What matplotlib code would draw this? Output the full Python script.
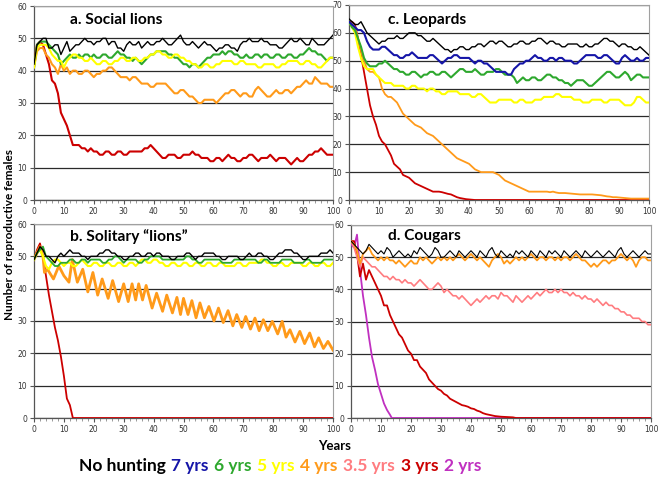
import numpy as np
import matplotlib
matplotlib.use("Agg")
from matplotlib import pyplot as plt
from matplotlib.offsetbox import TextArea, HPacker, AnchoredOffsetbox

###################################################################################################
# DATA (one value per year unless an x list is given)
###################################################################################################
YEARS = list(range(101))

# a. Social lions
a_none = [42, 48, 49, 50, 50, 47, 47, 48, 48, 45, 47, 49, 46, 47, 48, 48, 49, 50, 49, 49,
          48, 49, 49, 50, 50, 48, 49, 49, 47, 47, 46, 48, 49, 48, 48, 49, 47, 48, 49, 48,
          48, 49, 49, 50, 49, 48, 48, 49, 50, 51, 49, 48, 48, 49, 48, 47, 48, 49, 48, 48,
          47, 46, 47, 47, 48, 48, 47, 47, 46, 48, 49, 49, 50, 49, 49, 49, 50, 49, 49, 48,
          48, 48, 47, 47, 48, 49, 50, 49, 49, 50, 49, 48, 48, 50, 49, 48, 48, 48, 49, 50, 51]
a_6 = [41, 48, 49, 49, 49, 48, 47, 46, 45, 42, 43, 44, 45, 44, 44, 45, 44, 45, 45, 44,
       45, 44, 44, 45, 45, 44, 44, 45, 46, 45, 45, 44, 44, 43, 44, 43, 42, 43, 44, 45,
       45, 46, 46, 46, 46, 45, 45, 44, 44, 43, 42, 42, 41, 42, 42, 41, 42, 43, 44, 44,
       45, 45, 45, 46, 45, 46, 46, 45, 45, 44, 44, 45, 44, 44, 45, 45, 44, 45, 45, 44,
       44, 45, 45, 44, 44, 45, 45, 44, 44, 45, 45, 46, 47, 46, 46, 45, 45, 44, 43, 44, 44]
a_5 = [41, 47, 48, 48, 48, 47, 45, 44, 43, 43, 41, 43, 44, 45, 45, 44, 44, 43, 43, 44,
       43, 42, 42, 43, 43, 42, 42, 43, 43, 44, 44, 43, 43, 44, 44, 43, 43, 44, 44, 45,
       45, 46, 46, 45, 45, 44, 44, 45, 45, 44, 44, 43, 43, 42, 42, 41, 41, 42, 42, 41,
       41, 42, 42, 43, 43, 43, 43, 42, 42, 43, 43, 42, 42, 42, 42, 41, 41, 42, 42, 42,
       42, 41, 41, 42, 42, 43, 43, 43, 43, 42, 42, 43, 43, 42, 42, 41, 41, 42, 43, 44, 44]
a_4 = [41, 46, 47, 47, 45, 44, 42, 41, 39, 42, 40, 41, 39, 40, 40, 39, 39, 40, 40, 39,
       38, 39, 39, 40, 40, 41, 41, 40, 39, 38, 38, 38, 37, 38, 38, 37, 36, 36, 36, 35,
       35, 36, 36, 36, 36, 35, 34, 33, 33, 34, 34, 33, 32, 32, 31, 30, 30, 31, 31, 31,
       31, 30, 31, 32, 33, 33, 34, 34, 33, 32, 33, 33, 32, 32, 34, 35, 34, 33, 32, 32,
       33, 34, 33, 33, 34, 34, 33, 34, 35, 35, 36, 37, 36, 36, 38, 37, 36, 36, 36, 35, 35]
a_3 = [42, 48, 49, 48, 45, 42, 37, 36, 33, 27, 25, 23, 20, 17, 17, 17, 16, 16, 15, 16,
       15, 15, 14, 14, 15, 15, 14, 14, 15, 15, 14, 14, 15, 15, 15, 15, 15, 16, 16, 17,
       16, 15, 14, 13, 13, 14, 14, 14, 13, 13, 14, 14, 14, 15, 14, 14, 13, 13, 13, 12,
       12, 13, 13, 12, 13, 14, 13, 13, 12, 12, 13, 13, 14, 14, 13, 12, 13, 13, 13, 14,
       13, 12, 13, 13, 13, 12, 11, 12, 13, 12, 12, 13, 14, 14, 15, 15, 16, 15, 14, 14, 14]

# c. Leopards
c_none = [65, 64, 63, 63, 64, 62, 60, 59, 58, 57, 56, 57, 57, 58, 58, 58, 59, 58, 58, 59,
          60, 60, 60, 59, 59, 58, 57, 57, 58, 57, 56, 55, 54, 54, 53, 54, 54, 55, 55, 54,
          54, 55, 55, 56, 56, 55, 56, 57, 57, 56, 57, 57, 56, 55, 55, 56, 56, 57, 57, 56,
          56, 57, 57, 58, 58, 57, 56, 57, 57, 56, 56, 55, 55, 56, 56, 56, 56, 55, 55, 56,
          55, 55, 56, 56, 57, 58, 58, 57, 57, 56, 55, 56, 56, 55, 55, 54, 54, 55, 54, 53, 52]
c_7 = [64, 63, 62, 61, 61, 60, 57, 55, 54, 54, 54, 55, 55, 54, 53, 52, 52, 51, 51, 52,
       52, 53, 52, 51, 51, 51, 51, 52, 52, 51, 50, 49, 50, 51, 51, 52, 52, 51, 51, 51,
       51, 50, 49, 50, 50, 49, 49, 48, 47, 46, 46, 46, 46, 45, 45, 47, 48, 49, 49, 50,
       50, 51, 52, 51, 51, 50, 50, 51, 51, 50, 51, 51, 50, 50, 50, 49, 49, 50, 51, 52,
       52, 52, 52, 51, 51, 52, 52, 51, 50, 49, 49, 51, 52, 51, 50, 50, 51, 50, 50, 51, 51]
c_6 = [64, 62, 61, 58, 55, 51, 49, 48, 48, 48, 49, 49, 50, 49, 48, 47, 47, 46, 46, 45,
       45, 46, 46, 45, 44, 45, 45, 46, 46, 45, 45, 46, 46, 45, 44, 45, 46, 47, 47, 46,
       46, 46, 47, 46, 45, 45, 46, 46, 46, 47, 47, 46, 45, 45, 45, 44, 42, 43, 44, 43,
       43, 44, 44, 43, 43, 44, 45, 45, 44, 44, 43, 43, 42, 42, 41, 42, 43, 43, 43, 42,
       41, 41, 42, 43, 44, 45, 46, 46, 45, 44, 44, 45, 46, 45, 43, 44, 45, 45, 44, 44, 44]
c_5 = [64, 62, 60, 55, 51, 48, 47, 47, 47, 45, 44, 43, 42, 42, 42, 41, 41, 41, 41, 40,
       40, 41, 41, 40, 40, 40, 39, 40, 40, 39, 39, 38, 38, 39, 39, 39, 39, 38, 38, 38,
       38, 37, 37, 38, 38, 37, 36, 35, 35, 35, 36, 36, 36, 36, 36, 35, 35, 36, 36, 35,
       35, 35, 36, 36, 36, 37, 37, 37, 37, 38, 38, 37, 37, 37, 37, 36, 36, 36, 35, 35,
       35, 36, 36, 36, 36, 35, 35, 36, 36, 36, 36, 35, 34, 34, 34, 35, 37, 37, 36, 35, 35]
c_4 = [64, 63, 62, 58, 54, 50, 47, 46, 46, 45, 44, 40, 38, 37, 37, 36, 35, 33, 31, 30,
       29, 28, 27, 26.5, 26, 25, 24, 23.5, 23, 22, 21, 20, 19, 18, 17, 16, 15, 14.5, 14, 13.5,
       13, 12, 11, 10.5, 10, 10, 10, 10, 10, 9.5, 9, 8, 7, 6.5, 6, 5.5, 5, 4.5, 4, 3.5,
       3, 3, 3, 3, 3, 3, 3, 2.8, 3, 2.7, 2.5, 2.5, 2.5, 2.4, 2.3, 2.2, 2.1, 2, 2, 2,
       2, 2, 1.9, 1.8, 1.7, 1.5, 1.3, 1.2, 1, 1, 0.9, 0.8, 0.7, 0.6, 0.5, 0.5, 0.5, 0.5, 0.5, 0.5, 0.5]
c_3_x = list(range(43)) + [100]
c_3 = [64, 64, 63, 58, 52, 46, 40, 34, 30, 27, 23, 21, 20, 18, 16, 13, 12, 11, 9, 8.5,
       8, 7, 6, 5.5, 5, 4.5, 4, 3.5, 3, 3, 3, 2.8, 2.5, 2.2, 2, 1.5, 1, 0.7, 0.5, 0.3,
       0.2, 0.1, 0, 0]

# b. Solitary "lions"
b_none = [49, 51, 53, 52, 50, 50, 49, 48, 50, 51, 50, 51, 52, 51, 51, 51, 50, 50, 49, 50,
          50, 50, 51, 51, 52, 52, 51, 51, 50, 50, 49, 49, 50, 50, 51, 51, 50, 50, 51, 51,
          50, 51, 51, 50, 50, 50, 49, 49, 50, 50, 50, 51, 51, 50, 49, 50, 50, 51, 51, 51,
          51, 50, 50, 49, 49, 50, 50, 50, 50, 49, 49, 50, 51, 50, 50, 51, 51, 50, 50, 49,
          49, 50, 51, 51, 52, 52, 52, 51, 51, 50, 49, 49, 50, 50, 50, 50, 51, 51, 51, 52, 51]
b_6 = [49, 51, 52, 53, 50, 49, 48, 47, 47, 48, 48, 48, 49, 49, 48, 48, 49, 49, 48, 49,
       49, 49, 49, 48, 48, 49, 49, 50, 50, 49, 48, 49, 49, 49, 49, 48, 48, 49, 49, 50,
       50, 50, 50, 49, 49, 49, 49, 49, 49, 49, 49, 50, 50, 49, 49, 48, 48, 49, 49, 49,
       49, 49, 49, 48, 48, 48, 48, 49, 49, 49, 49, 49, 49, 49, 49, 48, 48, 49, 49, 48,
       48, 48, 48, 49, 49, 49, 49, 48, 48, 48, 48, 49, 49, 48, 48, 48, 48, 49, 49, 49, 49]
b_5 = [49, 51, 52, 50, 47, 46, 48, 49, 49, 48, 47, 48, 48, 47, 47, 48, 49, 48, 47, 47,
       48, 48, 47, 47, 48, 48, 47, 47, 48, 48, 47, 47, 48, 48, 47, 48, 49, 49, 48, 48,
       49, 49, 48, 48, 47, 47, 48, 48, 47, 47, 48, 48, 47, 47, 48, 48, 47, 47, 48, 48,
       47, 47, 48, 48, 47, 47, 47, 47, 48, 48, 47, 47, 48, 48, 48, 48, 49, 49, 48, 48,
       47, 47, 48, 48, 47, 47, 48, 48, 48, 48, 47, 47, 48, 48, 47, 47, 48, 48, 47, 47, 48]
b_4_x = [0, 1, 2, 3, 3.5, 4.5, 6.5, 8.3, 10, 11.7, 12.8, 14.5, 16.3, 18, 19.7, 21.3, 22.8,
         24.8, 26.3, 28.3, 30, 31.5, 32.8, 34, 35, 36.3, 37.5, 39.5, 41, 43, 44.4, 46.3,
         47.8, 49, 50, 51.5, 52.8, 54.2, 55.5, 57, 58.5, 60.2, 61.7, 63.3, 64.9, 66.5,
         67.8, 69.5, 70.8, 72.4, 73.9, 75.3, 76.7, 78.2, 79.7, 81.5, 83, 84.3, 85.6,
         87.3, 88.9, 90.5, 92.2, 93.8, 95.2, 96.8, 98.3, 100]
b_4 = [49, 51, 53, 50, 45, 46, 43, 47, 44, 42, 49, 42, 46, 39, 45, 38, 43,
       37, 42.5, 36, 41.5, 36, 41.5, 36.5, 41.5, 36.5, 41, 34, 38.6, 33, 38, 32.5,
       37.3, 32, 37, 32, 36.3, 31, 35.6, 31, 34.5, 30, 34, 29.5, 33.2, 28.5,
       32, 28, 31.4, 27.5, 30.9, 27, 30.4, 27, 29.9, 26, 29.9, 25, 27.3,
       23.5, 26.8, 23, 26.3, 22, 24.8, 21.5, 23.7, 21]
b_3_x = list(range(14)) + [100]
b_3 = [49, 52, 54, 50, 44, 38, 33, 28, 24, 19, 13, 6, 4, 0, 0]

# d. Cougars
d_none = [55, 54, 53, 52, 51, 52, 54, 53, 52, 51, 52, 51, 53, 52, 50, 51, 52, 51, 50, 51,
          50, 52, 51, 53, 52, 51, 50, 51, 53, 52, 50, 50, 51, 52, 51, 50, 52, 51, 50, 51,
          52, 51, 50, 52, 51, 50, 52, 53, 51, 50, 52, 51, 50, 51, 50, 52, 51, 52, 51, 50,
          52, 51, 50, 52, 51, 50, 52, 51, 52, 51, 50, 52, 51, 50, 51, 52, 51, 50, 52, 51,
          50, 51, 52, 51, 50, 51, 52, 51, 50, 52, 53, 51, 50, 51, 52, 51, 50, 51, 52, 51, 51]
d_4 = [55, 54, 52, 48, 51, 52, 53, 51, 50, 49, 50, 49, 50, 49, 49, 48, 49, 48, 47, 48,
       49, 48, 48, 50, 49, 50, 49, 48, 49, 50, 49, 50, 49, 50, 49, 50, 51, 50, 49, 50,
       51, 50, 49, 50, 49, 48, 47, 49, 50, 51, 50, 48, 49, 48, 49, 50, 49, 50, 49, 50,
       51, 50, 49, 50, 50, 49, 50, 50, 49, 50, 49, 50, 50, 49, 50, 51, 50, 49, 49, 48,
       47, 48, 47, 48, 49, 49, 48, 49, 49, 50, 51, 50, 49, 50, 49, 47, 49, 50, 50, 49, 49]
d_35 = [55, 53, 50, 47, 50, 49, 48, 47, 47, 46, 45, 44, 44, 43, 44, 43, 43, 42, 43, 42,
        42, 41, 42, 43, 42, 41, 40, 40, 41, 42, 41, 39, 40, 39, 38, 38, 37, 38, 37, 36,
        35, 36, 37, 36, 37, 38, 37, 38, 38, 37, 39, 38, 38, 37, 36, 38, 37, 36, 37, 38,
        37, 38, 39, 38, 39, 40, 39, 39, 40, 39, 40, 39, 39, 38, 39, 38, 38, 37, 38, 37,
        37, 36, 37, 36, 35, 36, 35, 35, 34, 34, 33, 33, 32, 32, 31, 31, 31, 30, 30, 29, 29]
d_3_x = list(range(51)) + [52, 54, 55, 100]
d_3 = [55, 55, 51, 44, 48, 43, 46, 44, 42, 40, 38, 35, 35, 32, 30, 28, 26, 25, 23, 21,
       20, 18, 18, 16, 15, 14, 12, 11, 10, 9, 8.5, 7.5, 7, 6, 5.5, 5, 4.5, 4, 3.8, 3.5,
       3, 2.8, 2.3, 2, 1.5, 1.2, 1, 0.8, 0.6, 0.5, 0.4, 0.3, 0.2, 0, 0]
d_2_x = [0, 1, 2, 3, 4, 5, 6, 7, 8, 9, 10, 11, 12, 13, 13.6, 100]
d_2 = [54, 53, 57, 46, 38, 32, 25, 19, 15, 10.5, 7.5, 4.5, 2.5, 1, 0, 0]

LEGEND_LABELS = ["No hunting", "7 yrs", "6 yrs", "5 yrs", "4 yrs", "3.5 yrs", "3 yrs", "2 yrs"]
LEGEND_COLORS = ["#000000", "#1515a8", "#2ea82e", "#ffff00", "#ff9a1a", "#ff7c80", "#cc0000", "#c030c0"]
COL = dict(zip(["none", "7", "6", "5", "4", "3.5", "3", "2"], LEGEND_COLORS))

###################################################################################################
# DRAW
###################################################################################################
fig = plt.figure(figsize=(6.62, 4.84), dpi=100)


def panel(rect, ymax, title, tpos, series):
	ax = fig.add_axes(rect)
	for x, y, key, lw in series:
		ax.plot(x, y, color=COL[key], lw=lw, solid_joinstyle="round", zorder=3)
	ax.set_xlim(0, 100)
	ax.set_ylim(0, ymax)
	ax.set_xticks(range(0, 101, 10))
	ax.set_xticks(range(0, 101, 2), minor=True)
	ax.set_yticks(range(0, ymax + 1, 10))
	ax.yaxis.grid(True, color="#2a2a2a", lw=0.9, zorder=1)
	ax.tick_params(axis="both", which="major", labelsize=5.5, labelcolor="#333333",
				   length=3, width=0.8, color="#555555", pad=2)
	ax.tick_params(axis="x", which="minor", length=2, width=0.6, color="#888888")
	for s in ["top", "right"]:
		ax.spines[s].set_color("#a0a0a0")
		ax.spines[s].set_linewidth(0.8)
	for s in ["left", "bottom"]:
		ax.spines[s].set_color("#555555")
		ax.spines[s].set_linewidth(0.9)
	ax.text(tpos[0], tpos[1], title, transform=ax.transAxes, fontsize=11.2,
			fontweight="bold", family="Lato", ha="left", va="center")
	return ax


W, H = 662.0, 484.0

panel([34 / W, 1 - 200 / H, 299 / W, 194 / H], 60, "a. Social lions", (0.12, 0.928), [
	(YEARS, a_3, "3", 1.5),
	(YEARS, a_4, "4", 1.5),
	(YEARS, a_6, "6", 1.5),
	(YEARS, a_5, "5", 1.5),
	(YEARS, a_none, "none", 1.0),
])

panel([349 / W, 1 - 200 / H, 300 / W, 195 / H], 70, "c. Leopards", (0.13, 0.923), [
	(c_3_x, c_3, "3", 1.3),
	(YEARS, c_4, "4", 1.3),
	(YEARS, c_5, "5", 1.5),
	(YEARS, c_6, "6", 1.5),
	(YEARS, c_7, "7", 1.5),
	(YEARS, c_none, "none", 1.0),
])

panel([34 / W, 1 - 418 / H, 299 / W, 194 / H], 60, "b. Solitary \u201clions\u201d", (0.12, 0.938), [
	(b_3_x, b_3, "3", 1.3),
	(b_4_x, b_4, "4", 2.0),
	(YEARS, b_5, "5", 1.5),
	(YEARS, b_6, "6", 1.3),
	(YEARS, b_none, "none", 1.0),
])

panel([351 / W, 1 - 418 / H, 300 / W, 193 / H], 60, "d. Cougars", (0.123, 0.943), [
	(d_2_x, d_2, "2", 1.3),
	(d_3_x, d_3, "3", 1.3),
	(YEARS, d_35, "3.5", 1.2),
	(YEARS, d_4, "4", 1.3),
	(YEARS, d_none, "none", 0.8),
])

fig.text(10 / W, 1 - 234 / H, "Number of reproductive females", rotation=90, fontsize=8.5,
		 fontweight="bold", family="Lato", ha="center", va="center")
fig.text(335 / W, 1 - 446 / H, "Years", fontsize=9.5, fontweight="bold", family="Lato",
		 ha="center", va="center")

boxes = [TextArea(lab, textprops=dict(color=c, fontsize=12.5, fontweight="bold", family="Lato"))
		 for lab, c in zip(LEGEND_LABELS, LEGEND_COLORS)]
row = HPacker(children=boxes, align="baseline", pad=0, sep=4)
leg = AnchoredOffsetbox(loc="center", child=row, frameon=False, pad=0, borderpad=0,
						bbox_to_anchor=(280 / W, 1 - 466 / H), bbox_transform=fig.transFigure)
fig.add_artist(leg)

fig.savefig("out.png", dpi=100)
